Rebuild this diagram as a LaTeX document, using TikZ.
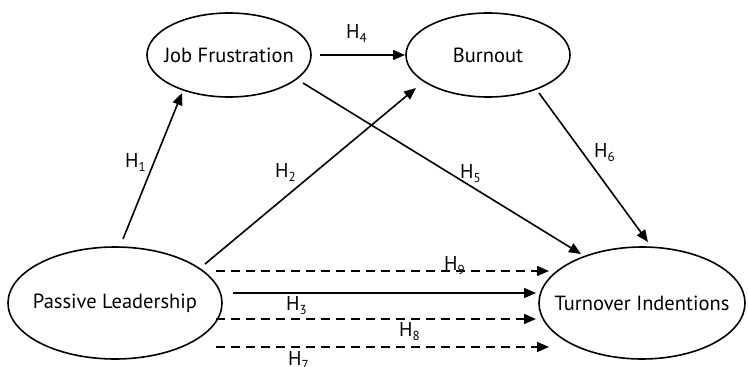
\documentclass[tikz,border=0pt]{standalone}
\usepackage{fontspec}
\setmainfont{PT Sans}
\usetikzlibrary{shapes.geometric,arrows.meta}
\newcommand{\hyp}[1]{H\raisebox{-4pt}{\fontsize{13}{13}\selectfont #1}}
\newcommand{\zw}[1]{\makebox[0pt]{#1}}
\tikzset{
  var/.style={draw, ellipse, line width=1.6pt, inner sep=0pt, font=\fontsize{20.5}{20.5}\selectfont},
  conn/.style={line width=1.6pt, -{Triangle[length=12pt,width=10pt]}},
  dconn/.style={conn, dash pattern=on 9pt off 6pt},
  hl/.style={font=\fontsize{20}{20}\selectfont, inner sep=0pt, anchor=base west}
}
\begin{document}
\begin{tikzpicture}[x=1pt,y=-1pt]
\useasboundingbox (0,0) rectangle (748,367);
\node[var, minimum width=164pt, minimum height=84pt] (jf) at (229,55) {\zw{Job Frustration}};
\node[var, minimum width=164pt, minimum height=84pt] (bo) at (488,55) {\zw{Burnout}};
\node[var, minimum width=214pt, minimum height=112pt] (pl) at (115,303) {\zw{Passive Leadership}};
\node[var, minimum width=206pt, minimum height=112pt] (ti) at (642,303) {\zw{Turnover Indentions}};
% endpoints
\coordinate (h1s) at (123,239); \coordinate (h1e) at (182,93);
\coordinate (h2s) at (205,264); \coordinate (h2e) at (416,88);
\coordinate (h4s) at (320,55); \coordinate (h4e) at (405,55);
\coordinate (h5s) at (303,83); \coordinate (h5e) at (581,254);
\coordinate (h6s) at (539,93); \coordinate (h6e) at (648,242);
\coordinate (h9s) at (216,271); \coordinate (h9e) at (549,271);
\coordinate (h3s) at (233,293); \coordinate (h3e) at (536,293);
\coordinate (h8s) at (216,319); \coordinate (h8e) at (536,319);
\coordinate (h7s) at (216,347); \coordinate (h7e) at (549,347);
\draw[conn] (h1s) -- (h1e);
\draw[conn] (h2s) -- (h2e);
\draw[conn] (h4s) -- (h4e);
\draw[conn] (h5s) -- (h5e);
\draw[conn] (h6s) -- (h6e);
\draw[dconn] (h9s) -- (h9e);
\draw[conn] (h3s) -- (h3e);
\draw[dconn] (h8s) -- (h8e);
\draw[dconn] (h7s) -- (h7e);
% labels (anchored at baseline-left of H)
\node[hl] (l1) at (125,167) {\hyp{1}};
\node[hl] (l2) at (275,177) {\hyp{2}};
\node[hl] (l4) at (346,38) {\hyp{4}};
\node[hl] (l5) at (460,178) {\hyp{5}};
\node[hl] (l6) at (594,157) {\hyp{6}};
\node[hl] (l9) at (444,270) {\hyp{9}};
\node[hl] (l3) at (286,310) {\hyp{3}};
\node[hl] (l8) at (399,336) {\hyp{8}};
\node[hl] (l7) at (288,365) {\hyp{7}};
\end{tikzpicture}
\end{document}
